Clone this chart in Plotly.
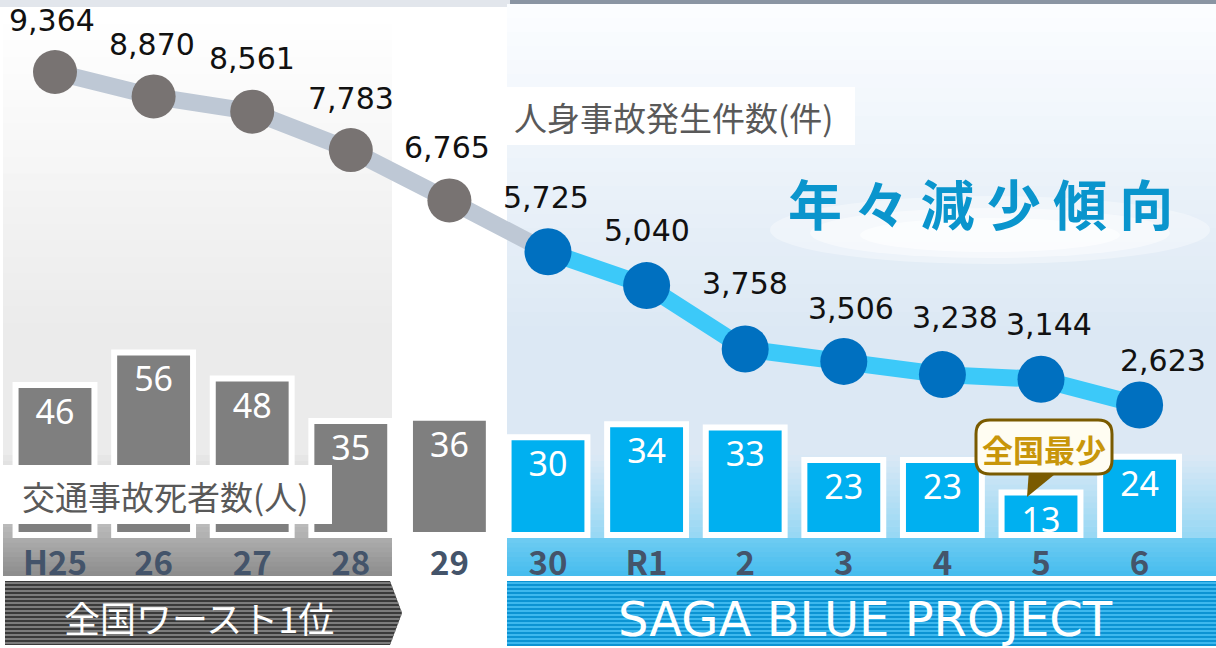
import plotly.graph_objects as go

W, H = 1216, 648

# ---------------- data ----------------
years = ["H25", "26", "27", "28", "29", "30", "R1", "2", "3", "4", "5", "6"]
accidents = [9364, 8870, 8561, 7783, 6765, 5725, 5040, 3758, 3506, 3238, 3144, 2623]
deaths = [46, 56, 48, 35, 36, 30, 34, 33, 23, 23, 13, 24]
split = 5  # first year of the "SAGA BLUE PROJECT" period (H30)

accident_title = "人身事故発生件数(件)"
death_title = "交通事故死者数(人)"
trend_text = "年 々 減 少 傾 向"
callout_text = "全国最少"
left_banner = "全国ワースト1位"
right_banner = "SAGA BLUE PROJECT"

# label offsets (style only): (dx, dy) in pixels
label_dx = [-3, -2, 0, 0, -2, -2, 0, 0, 7, 13, 8, 23]
label_dy = [52, 52, 53, 52, 53, 54, 55, 65, 53, 57, 55, 45]

FONT = "Noto Sans CJK JP"
GRAY_BAR, BLUE_BAR = "#7f7f7f", "#00b0f0"
GRAY_DOT, BLUE_DOT = "#787372", "#0070c0"
GRAY_LINE, BLUE_LINE = "#bec8d5", "#3cc9f9"


def px(x):
    return x / W


def py(y):
    return 1 - y / H


def hex2rgb(h):
    h = h.lstrip("#")
    return tuple(int(h[i:i + 2], 16) for i in (0, 2, 4))


def mix(c0, c1, t):
    a, b = hex2rgb(c0), hex2rgb(c1)
    return "rgb(%d,%d,%d)" % tuple(round(a[i] + (b[i] - a[i]) * t) for i in range(3))


shapes = []


def rect(x0, y0, x1, y1, color, layer="below", opacity=1.0, line=None):
    shapes.append(dict(type="rect", xref="paper", yref="paper",
                       x0=px(x0), x1=px(x1), y0=py(y1), y1=py(y0),
                       fillcolor=color, line=line or dict(width=0),
                       layer=layer, opacity=opacity))


def vgrad(x0, y0, x1, y1, c0, c1, n=16):
    step = (y1 - y0) / n
    for k in range(n):
        t = k / (n - 1) if n > 1 else 0
        yb = y0 + (k + 1) * step + (0.7 if k < n - 1 else 0)
        rect(x0, y0 + k * step, x1, yb, mix(c0, c1, t))


def path(points, color, layer="below", line=None):
    d = "M " + " L ".join("%f,%f" % (px(x), py(y)) for x, y in points) + " Z"
    shapes.append(dict(type="path", xref="paper", yref="paper", path=d,
                       fillcolor=color, line=line or dict(width=0), layer=layer))


# ---------------- backgrounds ----------------
# top photo strip
rect(0, 0, 510, 7, "#e2e6ec")
rect(510, 0, 1216, 4, "#8a95a3")

# left panel (worst period)
vgrad(3, 7, 392, 340, "#ffffff", "#ebebeb", 20)
rect(3, 340, 392, 456, "#ebebeb")
vgrad(3, 455, 392, 538, "#e6e6e6", "#b2b2b2", 14)
vgrad(3, 538, 392, 576, "#ababab", "#8e8e8e", 8)

# right panel (SAGA BLUE PROJECT)
vgrad(507, 4, 1216, 340, "#fbfdff", "#dce8f4", 24)
rect(507, 340, 1216, 456, "#dce8f4")
vgrad(507, 455, 1216, 538, "#d9e8f5", "#98d8f4", 14)
vgrad(507, 538, 1216, 576, "#6ccbf2", "#48bdee", 8)

# glow under trend text
for (x0, x1, y0, y1, op) in [(770, 1210, 196, 264, 0.35), (810, 1170, 208, 258, 0.45), (860, 1120, 218, 252, 0.6)]:
    shapes.append(dict(type="circle", xref="paper", yref="paper",
                       x0=px(x0), x1=px(x1), y0=py(y1), y1=py(y0),
                       fillcolor="white", line=dict(width=0), layer="below", opacity=op))

# bottom banners (striped)
path([(5, 581), (390, 581), (402, 613), (390, 645), (5, 645)], "#3a3a3a")
y = 582.0
while y < 645:
    ym = y + 1
    xe = 390 + 12 * max(0.0, 1 - abs(ym - 613) / 32)
    rect(5, y, xe, y + 2, "#7c7c7c")
    y += 4
rect(507, 581, 1216, 646, "#0b93d3")
y = 582.0
while y < 645:
    rect(507, y, 1216, y + 2, "#3db8ee")
    y += 4

# label boxes (above traces)
rect(507, 87, 855, 145, "white", layer="above")
rect(0, 465, 332, 524, "white", layer="above")

# callout "全国最少"
path([(1029, 470), (1060, 470), (1027, 497)], "#7a5b00", layer="above")
bx0, by0, bx1, by1, r = 976, 420, 1112, 474, 14
pts = [
    ("M", bx0 + r, by0), ("L", bx1 - r, by0), ("Q", bx1, by0, bx1, by0 + r),
    ("L", bx1, by1 - r), ("Q", bx1, by1, bx1 - r, by1), ("L", bx0 + r, by1),
    ("Q", bx0, by1, bx0, by1 - r), ("L", bx0, by0 + r), ("Q", bx0, by0, bx0 + r, by0),
]
d = ""
for p in pts:
    cmd = p[0]
    coords = p[1:]
    s = []
    for i in range(0, len(coords), 2):
        s.append("%f,%f" % (px(coords[i]), py(coords[i + 1])))
    d += cmd + " " + " ".join(s) + " "
d += "Z"
shapes.append(dict(type="path", xref="paper", yref="paper", path=d,
                   fillcolor="#fffdf2", line=dict(color="#7a5b00", width=3), layer="above"))

# ---------------- traces ----------------
bar_colors = [GRAY_BAR if i < split else BLUE_BAR for i in range(len(years))]
dot_colors = [GRAY_DOT if i < split else BLUE_DOT for i in range(len(years))]

fig = go.Figure()
fig.add_trace(go.Bar(
    x=years, y=deaths, width=0.8,
    marker=dict(color=bar_colors, line=dict(color="white", width=6)),
    text=[str(v) for v in deaths], textposition="inside", insidetextanchor="end",
    constraintext="none", textangle=0,
    textfont=dict(family="Noto Sans", size=34, color="white"),
    hoverinfo="skip", showlegend=False,
))
fig.add_trace(go.Scatter(
    x=years[:split + 1], y=accidents[:split + 1], yaxis="y2", mode="lines",
    line=dict(color=GRAY_LINE, width=17), hoverinfo="skip", showlegend=False,
))
fig.add_trace(go.Scatter(
    x=years[split:], y=accidents[split:], yaxis="y2", mode="lines",
    line=dict(color=BLUE_LINE, width=17), hoverinfo="skip", showlegend=False,
))
fig.add_trace(go.Scatter(
    x=years, y=accidents, yaxis="y2", mode="markers",
    marker=dict(color=dot_colors, opacity=1,
                size=[44 if i < split else 47 for i in range(len(years))],
                line=dict(width=0)),
    hoverinfo="skip", showlegend=False,
))

# ---------------- annotations ----------------
ann = []
for i, v in enumerate(accidents):
    # category axis: position by category index
    ann.append(dict(x=i, y=v, xref="x", yref="y2", text=f"{v:,}",
                    showarrow=False, xshift=label_dx[i], yshift=label_dy[i],
                    font=dict(family="DejaVu Sans", size=30, color="#111111")))


def ptext(x, y, text, size, color, anchor="center", weight="normal", family=FONT):
    ann.append(dict(x=px(x), y=py(y), xref="paper", yref="paper", text=text,
                    showarrow=False, xanchor=anchor, yanchor="middle",
                    font=dict(family=family, size=size, color=color, weight=weight)))


ptext(512, 117, accident_title, 33, "#595959", anchor="left")
ptext(20, 496, death_title, 33, "#595959", anchor="left")
ptext(980, 203, trend_text, 54, "#0a95cd", weight="bold")
ptext(1044, 448, callout_text, 31, "#c8960a", weight="bold")
ptext(199, 617, left_banner, 36, "white")
ptext(865, 619, right_banner, 48, "white", family="DejaVu Sans")

# ---------------- layout ----------------
fig.update_layout(
    width=W, height=H, template="none",
    margin=dict(l=0, r=0, t=0, b=0, pad=0),
    paper_bgcolor="white", plot_bgcolor="rgba(0,0,0,0)",
    showlegend=False, bargap=0.2,
    shapes=shapes, annotations=ann,
    xaxis=dict(type="category", range=[-55 / 98.6, (W - 55) / 98.6],
               anchor="free", position=1 - 541 / H,
               showgrid=False, zeroline=False, showline=False, ticks="",
               automargin=False, fixedrange=True,
               tickfont=dict(family=FONT, size=33, color="#44546a", weight="bold")),
    yaxis=dict(range=[-113 / 3.26, 535 / 3.26], visible=False, automargin=False, fixedrange=True),
    yaxis2=dict(range=[9364 - (H - 72) / 0.0494, 9364 + 72 / 0.0494], overlaying="y",
                visible=False, automargin=False, fixedrange=True),
)

fig.write_html("out.html", config={"displayModeBar": False},
               post_script="document.body.style.margin='0';document.body.style.overflow='hidden';")
